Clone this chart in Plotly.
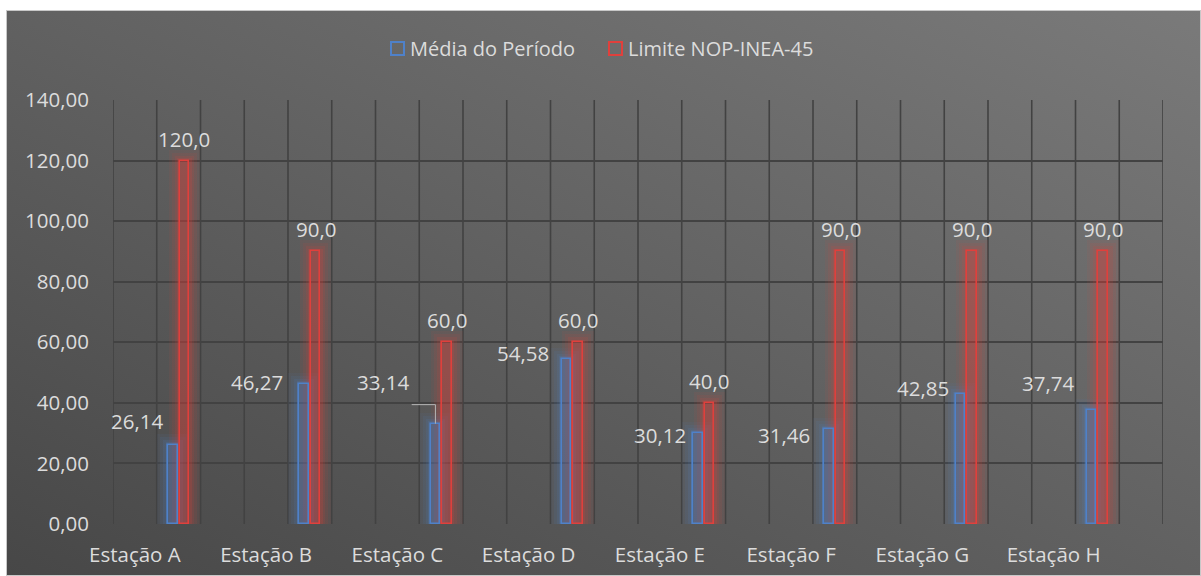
import plotly.graph_objects as go
import base64

categories = ["Estação A", "Estação B", "Estação C", "Estação D",
              "Estação E", "Estação F", "Estação G", "Estação H"]
media_periodo = [26.14, 46.27, 33.14, 54.58, 30.12, 31.46, 42.85, 37.74]
limite_nop = [120.0, 90.0, 60.0, 60.0, 40.0, 90.0, 90.0, 90.0]
series_names = ["Média do Período", "Limite NOP-INEA-45"]
y_ticks = [0, 20, 40, 60, 80, 100, 120, 140]

W, H = 1201, 576
L, R, T, B = 113, 38, 100, 52
PW, PH = W - L - R, H - T - B
YMAX = 140
COLS = 3  # grid columns per category
NCOL = COLS * len(categories)
px_x = PW / NCOL
px_y = PH / YMAX

BLUE = "#4f81c9"
RED = "#e0403c"
FONT = "Open Sans"
TXT = "#dcdcdc"
FS = 20.5

bar_w = 9.5 / px_x
off = 5.7 / px_x
idx = list(range(len(categories)))
x_blue = [i * COLS + 1.5 - off for i in idx]
x_red = [i * COLS + 1.5 + off for i in idx]
x_lbl = [i * COLS + 0.5 for i in idx]

fig = go.Figure()

# glow layers
def glow(xs, vals, color_rgb, name):
    for k, (extra, a) in enumerate([(22, 0.07), (16, 0.09), (10, 0.12), (5, 0.17)]):
        fig.add_trace(go.Bar(
            x=xs, y=[v + extra / 2 / px_y for v in vals], width=bar_w + extra / px_x,
            marker=dict(color=f"rgba({color_rgb},{a})", line=dict(width=0)),
            showlegend=False, hoverinfo="skip", name=name + f"_glow{k}"))

glow(x_blue, media_periodo, "79,129,201", "b")
glow(x_red, limite_nop, "224,64,60", "r")

fig.add_trace(go.Bar(
    x=x_blue, y=media_periodo, width=bar_w, name=series_names[0], showlegend=False,
    marker=dict(color="rgba(79,129,201,0.08)", line=dict(color=BLUE, width=1.6)),
))
fig.add_trace(go.Bar(
    x=x_red, y=limite_nop, width=bar_w, name=series_names[1], showlegend=False,
    marker=dict(color="rgba(224,64,60,0.08)", line=dict(color=RED, width=1.6)),
))

# red value labels, centred above bars
for xr, v in zip(x_red, limite_nop):
    fig.add_annotation(
        x=xr, y=v, xref="x", yref="y",
        text=f"{v:.1f}".replace(".", ","), showarrow=False,
        xanchor="center", yanchor="middle", yshift=22,
        font=dict(family=FONT, size=FS, color=TXT))

# blue value labels (manually placed callouts, as in source)
lbl_dx = [-3, -14, -20, -11, -5, -12, -5, -11]
lbl_dy = [8, -14, 26, -10, -18, -22, -10, 11]
for xb, v, dx, dy in zip(x_blue, media_periodo, lbl_dx, lbl_dy):
    fig.add_annotation(
        x=xb - bar_w / 2, y=v, xref="x", yref="y",
        text=f"{v:.2f}".replace(".", ","), showarrow=False,
        xanchor="right", yanchor="bottom", xshift=dx, yshift=dy,
        font=dict(family=FONT, size=FS, color=TXT))

# leader line for Estação C label
ci = 2
xc = x_blue[ci]
fig.add_shape(type="path", xref="x", yref="y",
              path=f"M {xc - bar_w/2 - 19/px_x},{media_periodo[ci] + 19/px_y} "
                   f"L {xc},{media_periodo[ci] + 19/px_y} L {xc},{media_periodo[ci]}",
              line=dict(color="#b5b5b5", width=1))

# custom legend (hollow squares + text), top centre
def px2paper_x(p):
    return (p - L) / PW

def px2paper_y(p):
    return (H - B - p) / PH

leg_items = [(series_names[0], BLUE, 390), (series_names[1], RED, 608)]
for name, col, x0 in leg_items:
    fig.add_shape(type="rect", xref="paper", yref="paper",
                  x0=px2paper_x(x0 + 1), x1=px2paper_x(x0 + 14),
                  y0=px2paper_y(55), y1=px2paper_y(42),
                  line=dict(color=col, width=2), fillcolor="rgba(0,0,0,0)")
    fig.add_annotation(x=px2paper_x(x0 + 18), y=px2paper_y(48.5), xref="paper", yref="paper",
                       text=name, showarrow=False, xanchor="left", yanchor="middle",
                       font=dict(family=FONT, size=20, color=TXT))

# background gradient via SVG
svg = (
    '<svg xmlns="http://www.w3.org/2000/svg" width="1195" height="566" preserveAspectRatio="none">'
    '<defs><linearGradient id="g" x1="0" y1="1" x2="1" y2="0">'
    '<stop offset="0" stop-color="#474747"/>'
    '<stop offset="0.5" stop-color="#616161"/>'
    '<stop offset="1" stop-color="#7a7a7a"/>'
    '</linearGradient></defs>'
    '<rect width="1195" height="566" fill="url(#g)" stroke="#c8c8c8" stroke-width="2"/></svg>'
)
src = "data:image/svg+xml;base64," + base64.b64encode(svg.encode()).decode()
fx0 = (6 - L) / PW
fx1 = (W - L) / PW
fy1 = (H - B - 10) / PH
fy0 = (H - B - H) / PH
fig.add_layout_image(dict(source=src, xref="paper", yref="paper",
                          x=fx0, y=fy1, sizex=fx1 - fx0, sizey=fy1 - fy0,
                          sizing="stretch", xanchor="left", yanchor="top",
                          layer="below"))

fig.update_layout(
    width=W, height=H,
    margin=dict(l=L, r=R, t=T, b=B, pad=0, autoexpand=False),
    paper_bgcolor="white", plot_bgcolor="rgba(0,0,0,0)",
    barmode="overlay", bargap=0,
    separators=",.",
    font=dict(family=FONT, size=FS, color=TXT),
    showlegend=False,
)
fig.update_xaxes(range=[0, NCOL], tickmode="array", tickvals=x_lbl, ticktext=categories,
                 showgrid=False, zeroline=False, showline=False, ticks="",
                 ticklabelstandoff=16, automargin=False,
                 tickfont=dict(family=FONT, size=FS, color=TXT))
for k in range(NCOL + 1):
    fig.add_shape(type="line", xref="x", yref="paper", x0=k, x1=k, y0=0, y1=1,
                  line=dict(color="#424242", width=1.6), layer="below")
fig.update_yaxes(range=[0, YMAX], tickmode="array", tickvals=y_ticks, tickformat=".2f",
                 showgrid=True, gridcolor="#424242", gridwidth=1.6,
                 zeroline=False, showline=False, ticks="", ticklabelstandoff=23,
                 automargin=False,
                 tickfont=dict(family=FONT, size=FS, color=TXT))

fig.write_html("out.html")
